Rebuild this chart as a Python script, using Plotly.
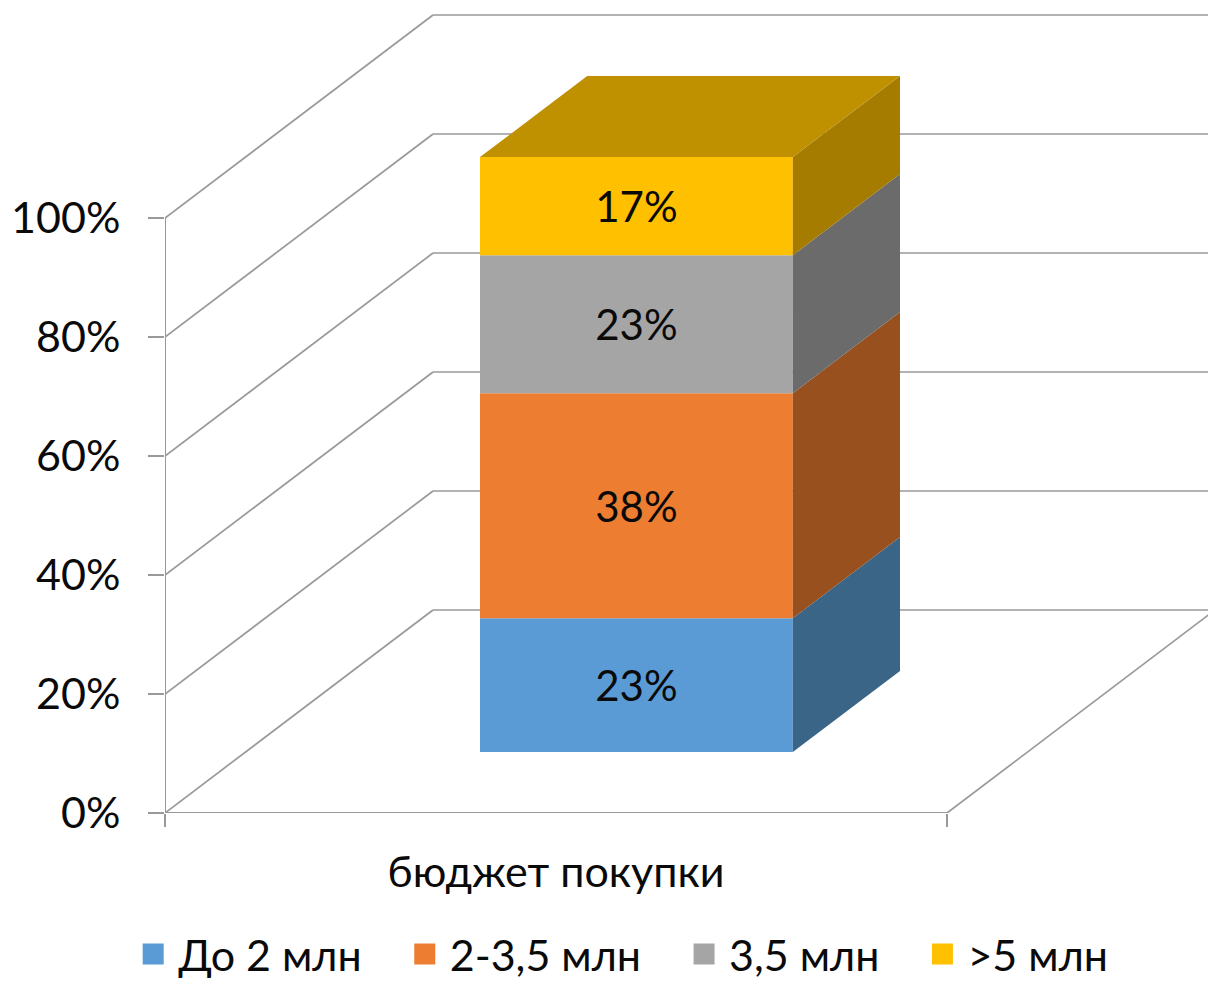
import plotly.graph_objects as go

series_names = ["До 2 млн", "2-3,5 млн", "3,5 млн", ">5 млн"]
series_values = [22.5, 37.8, 23.2, 16.5]
series_labels = ["23%", "38%", "23%", "17%"]
front_colors = ["#5B9BD5", "#ED7D31", "#A5A5A5", "#FFC000"]
side_colors = ["#3A6587", "#99501F", "#6B6B6B", "#A67C00"]
top_color = "#BF9000"
category = "бюджет покупки"
y_ticks = [0, 20, 40, 60, 80, 100]
y_tick_labels = ["0%", "20%", "40%", "60%", "80%", "100%"]

FONT = "Lato"
TEXT = "#0A0A0A"
GRID = "#999999"
W, H = 1208, 981
L, B = 165, 168
PX_X = 782.0      # pixels per category width
PX_Y = 5.95       # pixels per percent
DX = 268 / PX_X   # depth vector of the chart box, in axis units
DY = 203 / PX_Y
D0, D1 = 0.30, 0.70   # bar depth range
X0, X1 = 0.30, 0.70   # bar x range


def proj(x, y, d):
    return x + d * DX, y + d * DY


fig = go.Figure()
shapes = []


def grid_line(a, b, width=1.7):
    shapes.append(dict(type="line", xref="x", yref="y", x0=a[0], y0=a[1], x1=b[0], y1=b[1],
                       line=dict(color=GRID, width=width), layer="below"))


for t in y_ticks:
    grid_line(proj(0, t, 0), proj(0, t, 1))
    grid_line(proj(0, t, 1), proj(1, t, 1))
grid_line(proj(0, 0, 0), proj(0, 100, 0), 2)
grid_line(proj(0, 0, 0), proj(1, 0, 0), 2)
grid_line(proj(1, 0, 0), proj(1, 0, 1))

base = 0.0
for i, (name, v) in enumerate(zip(series_names, series_values)):
    fx, fy = proj((X0 + X1) / 2, base, D0)
    fig.add_trace(go.Bar(
        x=[fx], y=[v], base=[fy], width=[X1 - X0],
        marker=dict(color=front_colors[i], line=dict(width=0)),
        text=[series_labels[i]], textposition="inside", insidetextanchor="middle",
        textangle=0, textfont=dict(family=FONT, size=42, color=TEXT),
        showlegend=False, hoverinfo="skip",
    ))
    pts = [proj(X1, base, D0), proj(X1, base, D1), proj(X1, base + v, D1), proj(X1, base + v, D0)]
    fig.add_trace(go.Scatter(
        x=[p[0] for p in pts] + [pts[0][0]], y=[p[1] for p in pts] + [pts[0][1]],
        mode="none", fill="toself", fillcolor=side_colors[i], showlegend=False, hoverinfo="skip",
    ))
    base += v

pts = [proj(X0, base, D0), proj(X1, base, D0), proj(X1, base, D1), proj(X0, base, D1)]
fig.add_trace(go.Scatter(
    x=[p[0] for p in pts] + [pts[0][0]], y=[p[1] for p in pts] + [pts[0][1]],
    mode="none", fill="toself", fillcolor=top_color, showlegend=False, hoverinfo="skip",
))

for name, c in zip(series_names, front_colors):
    fig.add_trace(go.Scatter(
        x=[None], y=[None], mode="markers", name=name + "\u00a0" * 3,
        marker=dict(symbol="square", size=16, color=c, line=dict(color=c, width=5)),
    ))

fig.update_layout(
    width=W, height=H, margin=dict(l=L, r=0, t=0, b=B, pad=0, autoexpand=False),
    paper_bgcolor="white", plot_bgcolor="white", barmode="overlay", shapes=shapes,
    font=dict(family=FONT, size=43, color=TEXT),
    legend=dict(orientation="h", x=-0.0353, xref="paper", xanchor="left", y=-0.131, yanchor="top",
                font=dict(family=FONT, size=43, color=TEXT), itemwidth=40, maxheight=120,
                bgcolor="rgba(0,0,0,0)", traceorder="normal"),
    xaxis=dict(range=[0, (W - L) / PX_X], showgrid=False, zeroline=False, showline=False,
               tickvals=[0.5], ticktext=[category], ticks="", ticklen=0, ticklabelstandoff=30,
               tickfont=dict(family=FONT, size=43, color=TEXT),
               minor=dict(tickvals=[0, 1], ticks="outside", ticklen=13, tickcolor=GRID, tickwidth=1.7)),
    yaxis=dict(range=[0, (H - B) / PX_Y], showgrid=False, zeroline=False, showline=False,
               tickvals=y_ticks, ticktext=y_tick_labels, ticks="outside", ticklen=16,
               tickcolor=GRID, tickwidth=1.7, ticklabelstandoff=19,
               tickfont=dict(family=FONT, size=43, color=TEXT)),
)

fig.write_html("out.html", config={"displayModeBar": False},
               post_script="document.body.style.margin='0';")
